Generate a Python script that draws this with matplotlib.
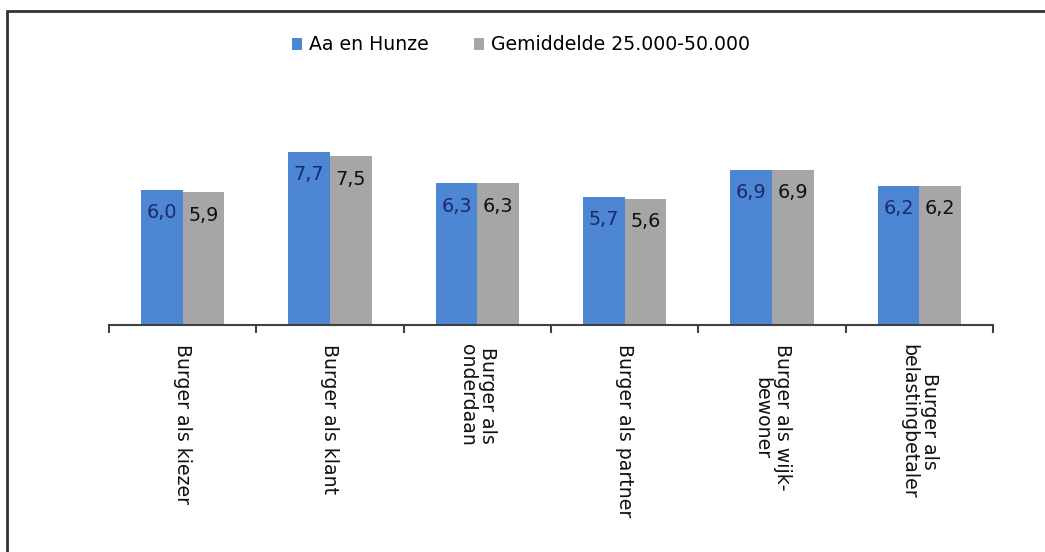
import matplotlib
matplotlib.use("Agg")
import matplotlib.pyplot as plt
from matplotlib.patches import Rectangle
import numpy as np

categories = ["Burger als kiezer", "Burger als klant", "Burger als\nonderdaan",
              "Burger als partner", "Burger als wijk-\nbewoner", "Burger als\nbelastingbetaler"]
series_names = ["Aa en Hunze", "Gemiddelde 25.000-50.000"]
aa_en_hunze = [6.0, 7.7, 6.3, 5.7, 6.9, 6.2]
gemiddelde = [5.9, 7.5, 6.3, 5.6, 6.9, 6.2]

blue = "#4D86D2"
gray = "#A6A6A6"

fig = plt.figure(figsize=(10.45, 5.52), dpi=100)
ax = fig.add_axes([0.1043, 0.4112, 0.8459, 0.4076])

x = np.arange(len(categories))
w = 0.283
b1 = ax.bar(x - w / 2, aa_en_hunze, w, color=blue, label=series_names[0])
b2 = ax.bar(x + w / 2, gemiddelde, w, color=gray, label=series_names[1])

for bars, vals, col in [(b1, aa_en_hunze, "#1C2A6E"), (b2, gemiddelde, "#111111")]:
    for r, v in zip(bars, vals):
        ax.annotate(f"{v:.1f}".replace(".", ","),
                    (r.get_x() + r.get_width() / 2, r.get_height()),
                    xytext=(0, -16.5), textcoords="offset points",
                    ha="center", va="center", fontsize=13.8, color=col)

ax.set_xlim(-0.5, len(categories) - 0.5)
ax.set_ylim(0, 10)
for s in ["top", "right", "left"]:
    ax.spines[s].set_visible(False)
ax.spines["bottom"].set_color("#404040")
ax.spines["bottom"].set_linewidth(1.5)
ax.set_yticks([])
ax.set_xticks(x)
ax.set_xticklabels(categories, rotation=270, ha="center", va="top",
                   multialignment="center", fontsize=13.6, color="#111111",
                   linespacing=1.1)
ax.tick_params(axis="x", which="major", length=0, pad=14)
ax.set_xticks(np.arange(-0.5, len(categories)), minor=True)
ax.tick_params(axis="x", which="minor", length=6, width=1.5, color="#404040", direction="out")

leg = fig.legend(handles=[b1, b2], labels=series_names, loc="center",
                 bbox_to_anchor=(521 / 1045, 1 - 45 / 552), ncol=2, frameon=False,
                 fontsize=13.6, handlelength=0.55, handleheight=0.55,
                 handletextpad=0.35, columnspacing=2.4)

fig.add_artist(Rectangle((6.5 / 1045, -0.2), 1.5, 0.2 + 1 - 10.5 / 552,
                         transform=fig.transFigure, fill=False,
                         edgecolor="#333333", linewidth=2))

fig.savefig("out.png", dpi=100, facecolor="white")
